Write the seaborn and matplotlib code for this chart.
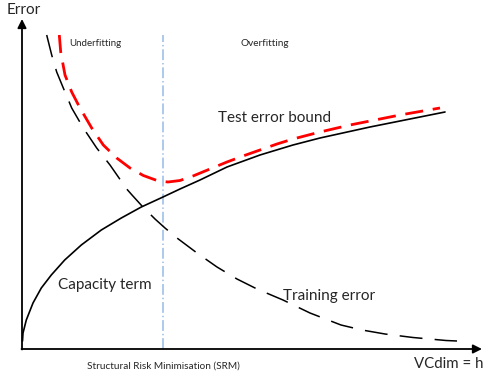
import matplotlib
matplotlib.use('Agg')
import matplotlib.pyplot as plt
import seaborn as sns
import pandas as pd

# Values.
# h = VC dimension (pixels right of the y axis), err = height above the x axis
cap_h = [0.5, 1, 4.3, 11, 19.3, 29.3, 42.7, 59.3, 79.3, 99.3, 119.3, 141, 158, 178,
         205, 238, 271, 298, 348, 378, 423]
cap_err = [8, 16, 29, 46, 61, 74, 89, 104, 119, 131, 142, 152, 160, 169,
           182, 194, 204, 211, 222, 228, 237]

train_h = [24.7, 29.7, 34.7, 41.3, 49.7, 61.3, 74.7, 88, 104.7, 110, 120, 133, 143, 155,
           175, 195, 215, 235, 261, 288, 319, 340, 363, 391, 424, 435]
train_err = [314, 294, 277, 261, 241, 221, 201, 184, 160, 154, 143, 130, 121, 111,
             96, 82, 70, 60, 49, 36, 24, 19, 15, 11.5, 8.5, 8]

test_h = [37.3, 38.7, 43, 49.7, 58, 69.7, 81.3, 94.7, 108, 121.3, 136.3, 146, 158, 171,
          188, 205, 221, 238, 255, 271, 298, 328, 348, 378, 418]
test_err = [314, 297, 274, 257, 241, 221, 204, 191, 181, 173.5, 168, 167, 168.5, 173,
            180, 187, 193, 199, 205, 210, 217, 224, 228, 234, 241]

srm_h = 141  # position of the SRM optimum (dash-dot line)

labels = {
    'y': 'Error',
    'x': 'VCdim = h',
    'under': 'Underfitting',
    'over': 'Overfitting',
    'test': 'Test error bound',
    'cap': 'Capacity term',
    'train': 'Training error',
    'srm': 'Structural Risk Minimisation (SRM)',
}

sns.set_style('white')
plt.rcParams['font.family'] = ['Lato', 'DejaVu Sans']

fig = plt.figure(figsize=(4.9, 3.76), dpi=100)
ax = fig.add_axes([0, 0, 1, 1])
ax.set_xlim(-22, 468)
ax.set_ylim(-27, 349)
ax.axis('off')

cap = pd.DataFrame({'h': cap_h, 'err': cap_err})
train = pd.DataFrame({'h': train_h, 'err': train_err})
test = pd.DataFrame({'h': test_h, 'err': test_err})

# SRM line
ax.vlines(srm_h, 0, 314, color='#a7c6ea', lw=1.3, linestyles=[(0, (6, 1.6, 0.8, 1.6))])

sns.lineplot(data=cap, x='h', y='err', ax=ax, color='black', lw=1.2, sort=False)
sns.lineplot(data=train, x='h', y='err', ax=ax, color='black', lw=1.1, sort=False,
             linestyle=(0, (15, 8)))
sns.lineplot(data=test, x='h', y='err', ax=ax, color='#ff0000', lw=2.0, sort=False,
             linestyle=(0, (6.5, 3.5)))

# axes with arrows
arrow = dict(arrowstyle='-|>', color='black', lw=1.3, mutation_scale=13,
             shrinkA=0, shrinkB=0)
ax.annotate('', xy=(0, 330), xytext=(0, -0.5), arrowprops=arrow)
ax.annotate('', xy=(460, 0), xytext=(-0.5, 0), arrowprops=arrow)

ax.text(-15, 339, labels['y'], fontsize=11, va='center', ha='left')
ax.text(461, -15, labels['x'], fontsize=10.8, va='center', ha='right')
ax.text(47, 305, labels['under'], fontsize=7, va='center')
ax.text(218, 305, labels['over'], fontsize=7.2, va='center')
ax.text(196, 231, labels['test'], fontsize=11, va='center')
ax.text(36, 64, labels['cap'], fontsize=11, va='center')
ax.text(261, 53, labels['train'], fontsize=11, va='center')
ax.text(141, -17, labels['srm'], fontsize=7.2, va='center', ha='center')

fig.savefig('out.png', dpi=100)
